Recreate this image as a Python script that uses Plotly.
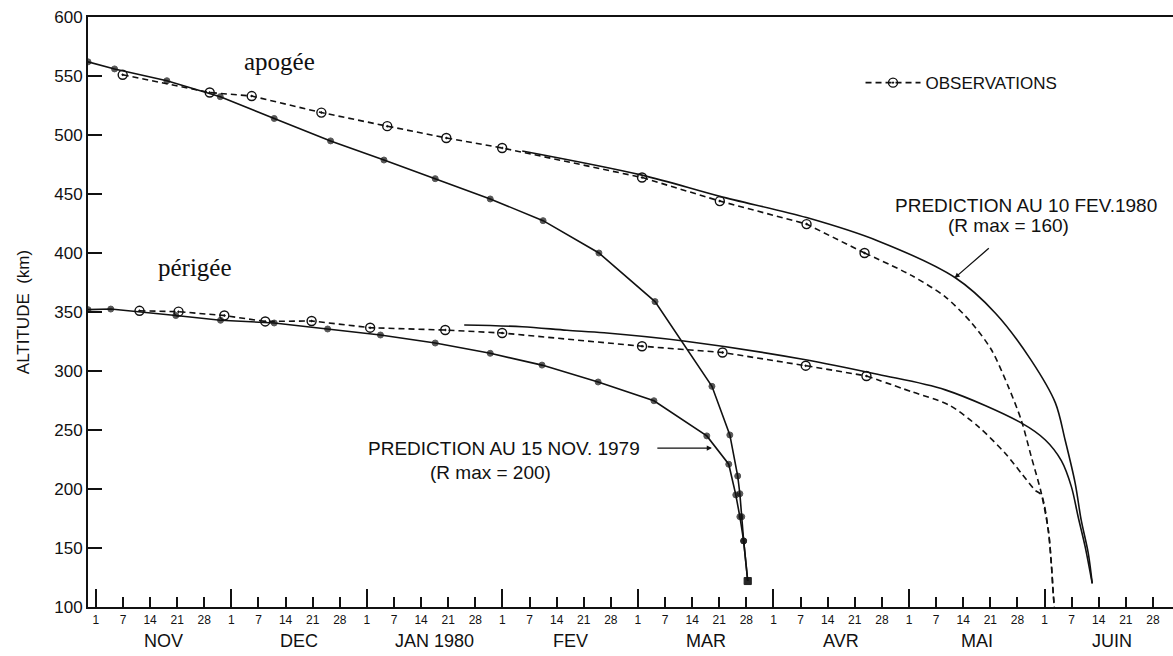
import plotly.graph_objects as go

# ---------------- axis labels ----------------
months = ["NOV", "DEC", "JAN 1980", "FEV", "MAR", "AVR", "MAI", "JUIN"]
tick_days = ["1", "7", "14", "21", "28"]
y_ticks = [100, 150, 200, 250, 300, 350, 400, 450, 500, 550, 600]

# x positions are in the chart's schematic "tick units":
# 0 = 1 NOV 1979, one unit per printed tick (1, 7, 14, 21, 28 of each month)

# ---------------- apogee ----------------
apo_obs_t = [0.99, 4.20, 5.75, 8.32, 10.75, 12.93, 14.99, 20.15, 23.02, 26.22, 28.36]
apo_obs_alt = [551, 536, 533, 519, 507.5, 497.5, 489, 464, 444, 424.5, 400]
apo_obs_tail_t = [28.36, 30.09, 31.33, 32.30, 33.04, 33.66, 34.14, 34.51, 34.88, 35.14, 35.25, 35.32, 35.36]
apo_obs_tail_alt = [400, 381, 363, 341, 318, 287, 258.5, 227.5, 196.6, 165, 137, 112, 100]

apo_nov_t = [-0.29, 0.69, 2.62, 4.59, 6.58, 8.66, 10.63, 12.52, 14.55, 16.50, 18.56, 20.63,
             22.73, 23.39, 23.68, 23.76, 23.83, 23.90, 24.05]
apo_nov_alt = [562, 556, 546, 532.5, 514, 495, 478.8, 463, 445.8, 427.4, 400, 358.8,
               287, 245.8, 211, 196, 176.5, 156, 122]

apo_feb_t = [15.73, 20.15, 23.02, 26.22, 28.88, 31.71, 33.19, 34.51, 35.40, 35.76, 36.13, 36.35, 36.61, 36.76]
apo_feb_alt = [486.5, 466, 448, 430, 410, 379, 349, 309, 273, 241.5, 205, 174, 146, 120]

# ---------------- perigee ----------------
per_obs_t = [1.61, 3.05, 4.74, 6.25, 7.96, 10.12, 12.89, 14.99, 20.15, 23.12, 26.19, 28.43]
per_obs_alt = [351, 350.3, 347, 342, 342.4, 336.7, 334.7, 332.2, 321, 315.7, 304.5, 295.8]
per_obs_tail_t = [28.43, 30.09, 31.49, 32.56, 33.54, 34.14, 34.65, 34.88, 35.14, 35.25, 35.32, 35.36]
per_obs_tail_alt = [295.8, 282.5, 271, 252.8, 230.5, 213.5, 199, 195, 165, 137, 112, 100]

per_nov_t = [-0.29, 0.55, 2.95, 4.60, 6.58, 8.55, 10.50, 12.52, 14.55, 16.46, 18.53, 20.59,
             22.54, 23.35, 23.61, 23.76, 23.90, 24.05]
per_nov_alt = [352, 352.5, 347, 343, 340.7, 335.6, 330.5, 323.7, 315, 305, 290.7, 274.8,
               245, 221, 195, 176.5, 156, 122]

per_feb_t = [13.59, 15.73, 17.38, 18.75, 21.69, 26.08, 28.88, 31.34, 34.14, 35.03, 35.62, 35.99, 36.24, 36.50, 36.76]
per_feb_alt = [339, 337.5, 334.5, 332.4, 325.4, 310, 297, 284, 256, 241.5, 224, 202, 176.5, 151, 120]

# ---------------- figure ----------------
INK = "#111111"
FONT = "Liberation Sans, Arial, sans-serif"
SERIF = "Liberation Serif, DejaVu Serif, serif"
LW = 1.6

fig = go.Figure()


def obs_trace(t, alt, name, show):
    return go.Scatter(x=t, y=alt, mode="lines+markers", name=name, showlegend=show,
                      line=dict(color=INK, width=LW, dash="6px,4px"),
                      marker=dict(symbol="circle-open-dot", size=9, color=INK,
                                  line=dict(color=INK, width=1.4)))


def tail_trace(t, alt):
    return go.Scatter(x=t, y=alt, mode="lines", showlegend=False,
                      line=dict(color=INK, width=LW, dash="6px,4px", shape="spline", smoothing=0.8))


def nov_trace(t, alt):
    symbols = ["circle"] * (len(t) - 1) + ["square"]
    sizes = [6] * (len(t) - 1) + [7]
    return go.Scatter(x=t, y=alt, mode="lines+markers", showlegend=False,
                      line=dict(color=INK, width=LW),
                      marker=dict(symbol=symbols, size=sizes, color=INK,
                                  line=dict(color=INK, width=1)))


def feb_trace(t, alt):
    return go.Scatter(x=t, y=alt, mode="lines", showlegend=False,
                      line=dict(color=INK, width=LW, shape="spline", smoothing=0.9))


fig.add_trace(obs_trace(apo_obs_t, apo_obs_alt, "OBSERVATIONS", True))
fig.add_trace(tail_trace(apo_obs_tail_t, apo_obs_tail_alt))
fig.add_trace(obs_trace(per_obs_t, per_obs_alt, "OBSERVATIONS", False))
fig.add_trace(tail_trace(per_obs_tail_t, per_obs_tail_alt))
fig.add_trace(nov_trace(apo_nov_t, apo_nov_alt))
fig.add_trace(nov_trace(per_nov_t, per_nov_alt))
fig.add_trace(feb_trace(apo_feb_t, apo_feb_alt))
fig.add_trace(feb_trace(per_feb_t, per_feb_alt))

n_ticks = len(months) * len(tick_days)
tick_pos = list(range(n_ticks))
tick_txt = tick_days * len(months)
month_starts = [i * len(tick_days) for i in range(len(months))]

# invisible anchor trace for the month-tick overlay axis
fig.add_trace(go.Scatter(x=[0], y=[100], xaxis="x2", mode="markers",
                         marker=dict(opacity=0), showlegend=False, hoverinfo="skip"))

x_range = [-0.29, 39.74]

fig.update_layout(
    width=1173, height=656,
    margin=dict(l=88, r=0, t=17, b=49),
    paper_bgcolor="white", plot_bgcolor="white",
    font=dict(family=FONT, color=INK, size=17),
    showlegend=True,
    legend=dict(x=0.712, y=0.888, xanchor="left", yanchor="middle",
                bgcolor="rgba(0,0,0,0)", font=dict(size=17, family=FONT),
                itemwidth=55),
    xaxis=dict(range=x_range, tickmode="array", tickvals=tick_pos, ticktext=tick_txt,
               ticks="inside", ticklen=10, tickwidth=1.5, tickcolor=INK,
               showline=True, linecolor=INK, linewidth=1.8, mirror=True,
               showgrid=False, zeroline=False,
               tickfont=dict(size=12, family=FONT), ticklabelstandoff=1),
    xaxis2=dict(range=x_range, overlaying="x", anchor="y", side="bottom",
                tickmode="array", tickvals=month_starts, ticktext=[""] * len(month_starts),
                ticks="inside", ticklen=18, tickwidth=1.8, tickcolor=INK,
                showline=False, showgrid=False, zeroline=False, showticklabels=False),
    yaxis=dict(range=[100, 600], tickmode="array", tickvals=y_ticks,
               ticks="inside", ticklen=14, tickwidth=1.5, tickcolor=INK,
               showline=True, linecolor=INK, linewidth=1.8, mirror=False,
               showgrid=False, zeroline=False,
               tickfont=dict(size=17, family=FONT),
               title=dict(text="ALTITUDE  (km)", font=dict(size=17, family=FONT), standoff=20)),
)

# month names
for i, m in enumerate(months):
    fig.add_annotation(x=month_starts[i] + 2.5, y=-0.057, xref="x", yref="paper",
                       text=m, showarrow=False, font=dict(size=18, family=FONT),
                       xanchor="center", yanchor="middle")

# curve labels
fig.add_annotation(x=6.78, y=562, text="apogée", showarrow=False,
                   font=dict(size=25, family=SERIF))
fig.add_annotation(x=3.65, y=388, text="périgée", showarrow=False,
                   font=dict(size=25, family=SERIF))

# prediction labels
fig.add_annotation(x=15.06, y=234.7, text="PREDICTION AU 15 NOV. 1979", showarrow=False,
                   font=dict(size=19, family=FONT))
fig.add_annotation(x=14.55, y=214, text="(R max = 200)", showarrow=False,
                   font=dict(size=19, family=FONT))
fig.add_annotation(x=22.73, y=234.7, ax=20.66, ay=234.7, axref="x", ayref="y",
                   text="", showarrow=True, arrowhead=2, arrowsize=0.8,
                   arrowwidth=1.3, arrowcolor=INK)

fig.add_annotation(x=34.33, y=440, text="PREDICTION AU 10 FEV.1980", showarrow=False,
                   font=dict(size=19, family=FONT))
fig.add_annotation(x=33.66, y=423, text="(R max = 160)", showarrow=False,
                   font=dict(size=19, family=FONT))
fig.add_annotation(x=31.68, y=378.8, ax=33.0, ay=405.1, axref="x", ayref="y",
                   text="", showarrow=True, arrowhead=2, arrowsize=0.8,
                   arrowwidth=1.3, arrowcolor=INK)

fig.write_html("out.html")
